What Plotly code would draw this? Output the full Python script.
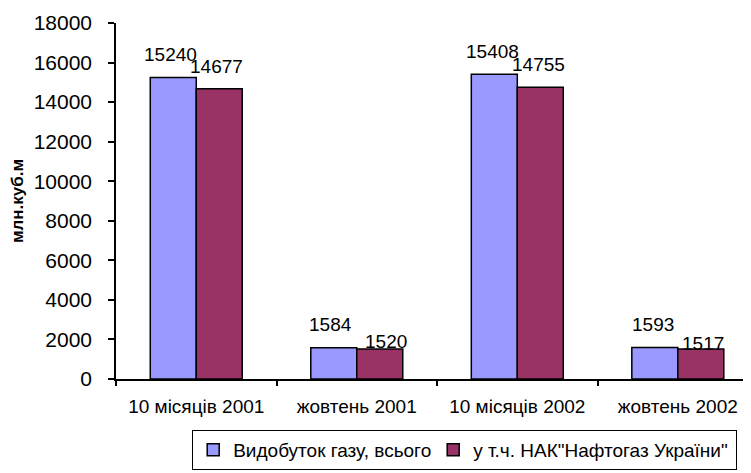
import plotly.graph_objects as go

categories = ["10 місяців 2001", "жовтень 2001", "10 місяців 2002", "жовтень 2002"]
total_output = [15240, 1584, 15408, 1593]
naftogaz_output = [14677, 1520, 14755, 1517]
series_names = ["Видобуток газу, всього", "у т.ч. НАК\"Нафтогаз України\""]
y_ticks = [0, 2000, 4000, 6000, 8000, 10000, 12000, 14000, 16000, 18000]
y_title = "млн.куб.м"

FONT = "Liberation Sans, Arial, sans-serif"
BLUE = "#9999FF"
MAROON = "#993366"
BARGAP = 0.427
half = (1 - BARGAP) / 4  # centre offset of each bar within a group

fig = go.Figure()
fig.add_trace(go.Bar(x=categories, y=total_output, name=series_names[0],
                     legendwidth=195,
                     marker=dict(color=BLUE, line=dict(color="black", width=1.5))))
fig.add_trace(go.Bar(x=categories, y=naftogaz_output, name=series_names[1],
                     legendwidth=258,
                     marker=dict(color=MAROON, line=dict(color="black", width=1.5))))

# data labels
blue_yshift = [23, 23, 23, 23]
maroon_yshift = [22, 7, 23, 6]
blue_xshift = [-3, -3, -2, -2]
maroon_xshift = [-3, 6, -2, 2]
annotations = []
for i, v in enumerate(total_output):
    annotations.append(dict(x=i - half, y=v, xref="x", yref="y", text=str(v), showarrow=False,
                            yanchor="middle", xanchor="center", yshift=blue_yshift[i], xshift=blue_xshift[i],
                            font=dict(family=FONT, size=19, color="black")))
for i, v in enumerate(naftogaz_output):
    annotations.append(dict(x=i + half, y=v, xref="x", yref="y", text=str(v), showarrow=False,
                            yanchor="middle", xanchor="center", yshift=maroon_yshift[i], xshift=maroon_xshift[i],
                            font=dict(family=FONT, size=19, color="black")))

fig.update_layout(
    width=751, height=473,
    margin=dict(l=108, r=8, t=15, b=102, autoexpand=False),
    paper_bgcolor="white", plot_bgcolor="white",
    font=dict(family=FONT, color="black"),
    barmode="group", bargap=BARGAP, bargroupgap=0,
    showlegend=True,
    legend=dict(orientation="h", x=0.12, y=-0.143, xanchor="left", yanchor="top",
                bordercolor="black", borderwidth=1, font=dict(family=FONT, size=19),
                bgcolor="white"),
    annotations=annotations,
)
fig.update_xaxes(
    range=[-0.5, 3.456], showline=True, linecolor="black", linewidth=1.5,
    ticks="outside", tickson="boundaries", ticklen=5, tickcolor="black", tickwidth=1.5,
    tickfont=dict(family=FONT, size=19), ticklabelstandoff=9, showgrid=False,
    automargin=False,
)
fig.update_yaxes(
    range=[0, 18000], tickvals=y_ticks, ticktext=[str(t) for t in y_ticks],
    showline=True, linecolor="black", linewidth=1.5,
    ticks="outside", ticklen=6, tickcolor="black", tickwidth=1.5,
    tickfont=dict(family=FONT, size=21), ticklabelstandoff=12, showgrid=False, zeroline=False,
    automargin=False,
    title=dict(text="<b>" + y_title + "</b>", font=dict(family=FONT, size=17), standoff=10),
)

fig.write_html("out.html")
